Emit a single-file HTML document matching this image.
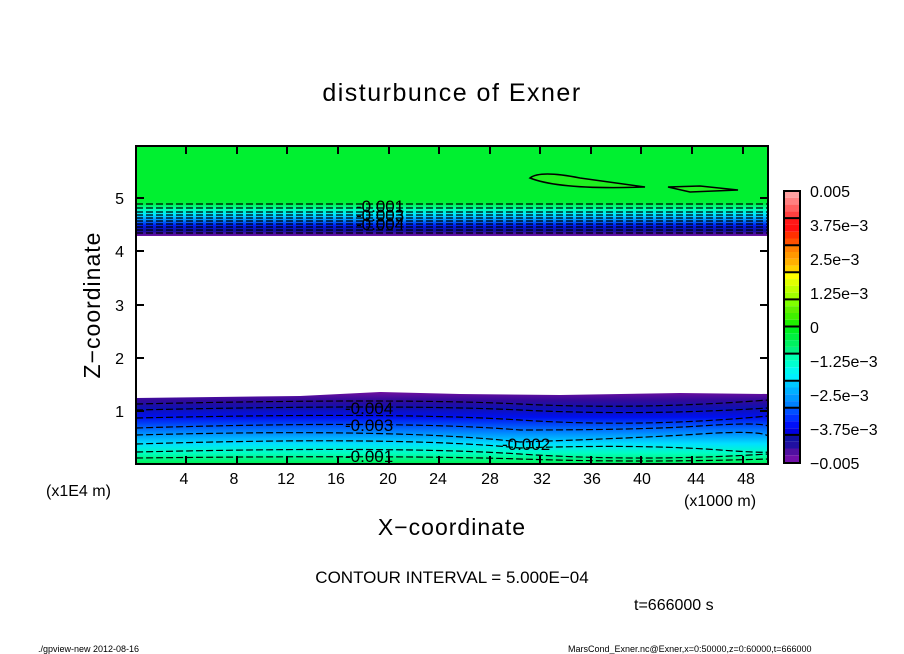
<!DOCTYPE html>
<html><head><meta charset="utf-8"><style>
body{margin:0;background:#fff;}
svg{display:block;font-family:"Liberation Sans","DejaVu Sans",sans-serif;}
</style></head><body>
<svg width="904" height="654" viewBox="0 0 904 654" xmlns="http://www.w3.org/2000/svg">
<defs>
<linearGradient id="top" x1="0" y1="0" x2="0" y2="1">
<stop offset="0" stop-color="#00f030"/>
<stop offset="0.10" stop-color="#00f040"/>
<stop offset="0.25" stop-color="#00ffb0"/>
<stop offset="0.40" stop-color="#00e8ff"/>
<stop offset="0.55" stop-color="#0090ff"/>
<stop offset="0.70" stop-color="#0020f0"/>
<stop offset="0.85" stop-color="#1010a0"/>
<stop offset="1" stop-color="#7010a0"/>
</linearGradient>
<linearGradient id="bot" x1="0" y1="0" x2="0" y2="1">
<stop offset="0" stop-color="#7010a0"/>
<stop offset="0.12" stop-color="#300a9a"/>
<stop offset="0.22" stop-color="#1010b0"/>
<stop offset="0.35" stop-color="#0010f0"/>
<stop offset="0.55" stop-color="#0080ff"/>
<stop offset="0.72" stop-color="#00e0ff"/>
<stop offset="0.85" stop-color="#00ffc0"/>
<stop offset="1" stop-color="#00f050"/>
</linearGradient>
<clipPath id="pc"><rect x="136" y="146" width="632" height="318"/></clipPath>
</defs>
<text x="452" y="101" font-size="25" text-anchor="middle" letter-spacing="1.5">disturbunce of Exner</text>
<g clip-path="url(#pc)">
<rect x="136" y="146" width="632" height="56" fill="#00f030"/>
<rect x="136" y="200" width="632" height="36" fill="url(#top)"/>
<path d="M136 398 L300 396 L380 392 L460 394 L560 395 L680 393 L768 394 L768 464 L136 464 Z" fill="url(#bot)"/>
<path d="M530 178 Q540 170 580 178 L645 187 Q560 190 530 178 Z" fill="#20f020" stroke="#000" stroke-width="1.5"/>
<path d="M668 187 L700 186 L738 190 L690 192 Z" fill="#20f020" stroke="#000" stroke-width="1.5"/>
<g stroke="#000" stroke-width="1.2" stroke-dasharray="7,3" fill="none">
<line x1="136" y1="204" x2="768" y2="204"/><line x1="136" y1="208" x2="768" y2="208"/>
<line x1="136" y1="212" x2="768" y2="212"/><line x1="136" y1="215" x2="768" y2="215"/>
<line x1="136" y1="218" x2="768" y2="218"/><line x1="136" y1="221" x2="768" y2="221"/>
<line x1="136" y1="224" x2="768" y2="224"/><line x1="136" y1="227" x2="768" y2="227"/>
<line x1="136" y1="230" x2="768" y2="230"/><line x1="136" y1="233" x2="768" y2="233"/>
<path d="M136 404 Q400 398 520 404 T768 400"/>
<path d="M136 410 Q400 404 520 410 T768 408"/>
<path d="M136 418 Q400 412 520 420 T768 416"/>
<path d="M136 428 Q400 420 520 430 Q640 430 700 426 T768 426"/>
<path d="M136 435 Q400 428 520 442 Q640 438 700 434 T768 436"/>
<path d="M136 444 Q400 436 520 448 Q640 444 720 450 T768 446"/>
<path d="M136 452 Q400 446 520 454 T768 454"/>
<path d="M136 458 Q400 455 520 459 T768 459"/>
</g>
</g>
<g font-size="17" fill="#000">
<text x="356" y="212">-0.001</text><text x="356" y="221">-0.003</text><text x="356" y="230">-0.004</text>
<text x="345" y="414">-0.004</text><text x="345" y="431">-0.003</text>
<text x="502" y="450">-0.002</text><text x="345" y="462">-0.001</text>
</g>
<rect x="136" y="146" width="632" height="318" fill="none" stroke="#000" stroke-width="2"/>
<g stroke="#000" stroke-width="2">
<path d="M136 198h8M136 251h8M136 305h8M136 358h8M136 411h8"/>
<path d="M768 198h-8M768 251h-8M768 305h-8M768 358h-8M768 411h-8"/>
<path d="M186 464v-8M237 464v-8M287 464v-8M338 464v-8M389 464v-8M439 464v-8M490 464v-8M540 464v-8M591 464v-8M641 464v-8M692 464v-8M743 464v-8"/>
<path d="M186 146v8M237 146v8M287 146v8M338 146v8M389 146v8M439 146v8M490 146v8M540 146v8M591 146v8M641 146v8M692 146v8M743 146v8"/>
</g>
<g font-size="16" fill="#000">
<text x="124" y="204" text-anchor="end">5</text><text x="124" y="257" text-anchor="end">4</text>
<text x="124" y="311" text-anchor="end">3</text><text x="124" y="364" text-anchor="end">2</text>
<text x="124" y="417" text-anchor="end">1</text>
</g>
<g font-size="16" text-anchor="middle" fill="#000">
<text x="184" y="484">4</text><text x="234" y="484">8</text><text x="286" y="484">12</text><text x="336" y="484">16</text>
<text x="388" y="484">20</text><text x="438" y="484">24</text><text x="490" y="484">28</text><text x="542" y="484">32</text>
<text x="592" y="484">36</text><text x="642" y="484">40</text><text x="696" y="484">44</text><text x="746" y="484">48</text>
</g>
<text x="46" y="496" font-size="16">(x1E4 m)</text>
<text x="684" y="506" font-size="16">(x1000 m)</text>
<text x="452" y="535" font-size="23" text-anchor="middle" letter-spacing="1">X−coordinate</text>
<text x="100" y="305" font-size="23" text-anchor="middle" letter-spacing="1" transform="rotate(-90 100 305)">Z−coordinate</text>
<text x="452" y="583" font-size="17" text-anchor="middle">CONTOUR INTERVAL = 5.000E−04</text>
<text x="634" y="610" font-size="16">t=666000 s</text>
<text x="38" y="652" font-size="9">./gpview-new  2012-08-16</text>
<text x="568" y="652" font-size="9">MarsCond_Exner.nc@Exner,x=0:50000,z=0:60000,t=666000</text>
<!-- colorbar: 10 segments of 27.1, 4 substripes each -->
<g>
<rect x="784" y="191.0" width="16" height="6.8" fill="#ffa0a0"/><rect x="784" y="197.8" width="16" height="6.8" fill="#ff8080"/><rect x="784" y="204.6" width="16" height="6.8" fill="#ff6060"/><rect x="784" y="211.4" width="16" height="6.8" fill="#ff4040"/>
<rect x="784" y="218.1" width="16" height="6.8" fill="#ff1818"/><rect x="784" y="224.9" width="16" height="6.8" fill="#ff1010"/><rect x="784" y="231.7" width="16" height="6.8" fill="#ff3000"/><rect x="784" y="238.5" width="16" height="6.8" fill="#ff5000"/>
<rect x="784" y="245.2" width="16" height="6.8" fill="#ff8000"/><rect x="784" y="252.0" width="16" height="6.8" fill="#ff9800"/><rect x="784" y="258.8" width="16" height="6.8" fill="#ffb000"/><rect x="784" y="265.6" width="16" height="6.8" fill="#ffd000"/>
<rect x="784" y="272.3" width="16" height="6.8" fill="#ffff00"/><rect x="784" y="279.1" width="16" height="6.8" fill="#e0ff00"/><rect x="784" y="285.9" width="16" height="6.8" fill="#c0ff00"/><rect x="784" y="292.7" width="16" height="6.8" fill="#a0ff00"/>
<rect x="784" y="299.4" width="16" height="6.8" fill="#80ff00"/><rect x="784" y="306.2" width="16" height="6.8" fill="#60f000"/><rect x="784" y="313.0" width="16" height="6.8" fill="#40f000"/><rect x="784" y="319.8" width="16" height="6.8" fill="#20f000"/>
<rect x="784" y="326.5" width="16" height="6.8" fill="#00f020"/><rect x="784" y="333.3" width="16" height="6.8" fill="#00f040"/><rect x="784" y="340.1" width="16" height="6.8" fill="#00f060"/><rect x="784" y="346.9" width="16" height="6.8" fill="#00f080"/>
<rect x="784" y="353.6" width="16" height="6.8" fill="#00ffb0"/><rect x="784" y="360.4" width="16" height="6.8" fill="#00ffd0"/><rect x="784" y="367.2" width="16" height="6.8" fill="#00f8f0"/><rect x="784" y="374.0" width="16" height="6.8" fill="#00f0ff"/>
<rect x="784" y="380.7" width="16" height="6.8" fill="#00c8ff"/><rect x="784" y="387.5" width="16" height="6.8" fill="#00b0ff"/><rect x="784" y="394.3" width="16" height="6.8" fill="#0098ff"/><rect x="784" y="401.1" width="16" height="6.8" fill="#0080ff"/>
<rect x="784" y="407.8" width="16" height="6.8" fill="#0050ff"/><rect x="784" y="414.6" width="16" height="6.8" fill="#0030ff"/><rect x="784" y="421.4" width="16" height="6.8" fill="#0010f8"/><rect x="784" y="428.2" width="16" height="6.8" fill="#0000e0"/>
<rect x="784" y="434.9" width="16" height="6.8" fill="#1010a0"/><rect x="784" y="441.7" width="16" height="6.8" fill="#2010a0"/><rect x="784" y="448.5" width="16" height="6.8" fill="#5010a0"/><rect x="784" y="455.3" width="16" height="7.7" fill="#7010a8"/>
</g>
<g stroke="#000" stroke-width="2" fill="none">
<rect x="784" y="191" width="16" height="272"/>
<path d="M784 218.1h16M784 245.2h16M784 272.3h16M784 299.4h16M784 326.5h16M784 353.6h16M784 380.7h16M784 407.8h16M784 434.9h16"/>
</g>
<g font-size="16" fill="#000">
<text x="810" y="197">0.005</text><text x="810" y="231">3.75e−3</text><text x="810" y="265">2.5e−3</text>
<text x="810" y="299">1.25e−3</text><text x="810" y="333">0</text><text x="810" y="367">−1.25e−3</text>
<text x="810" y="401">−2.5e−3</text><text x="810" y="435">−3.75e−3</text><text x="810" y="469">−0.005</text>
</g>
</svg>
</body></html>
